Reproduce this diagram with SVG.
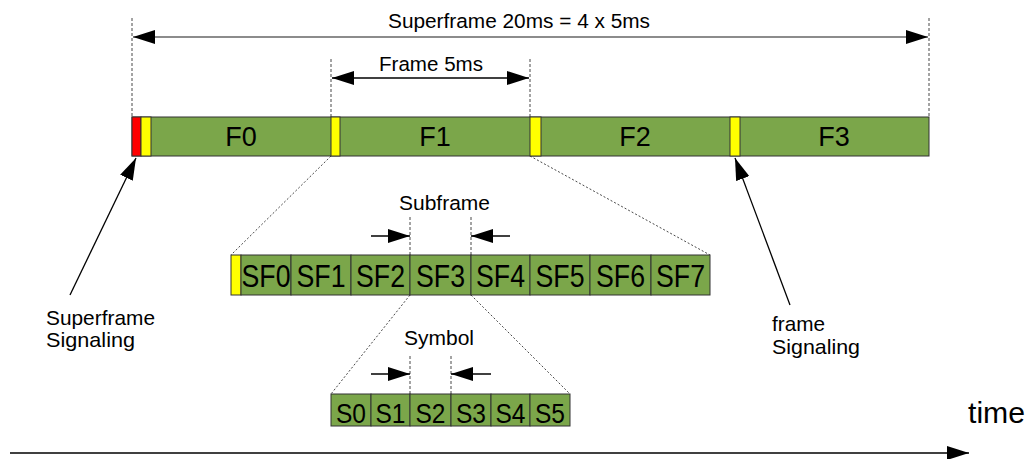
<svg xmlns="http://www.w3.org/2000/svg" width="1036" height="459" viewBox="0 0 1036 459">
<defs>
<style>
text{font-family:"Liberation Sans",Arial,sans-serif;fill:#000}
.g{fill:#7ba64a;stroke:#333;stroke-width:1}
.y{fill:#ffff00;stroke:#333;stroke-width:1}
.r{fill:#ff0000;stroke:#333;stroke-width:1}
.dash{stroke:#333;stroke-width:0.9;stroke-dasharray:3,2;fill:none}
.dot{stroke:#333;stroke-width:0.9;stroke-dasharray:2,2;fill:none}
.arr{stroke:#000;stroke-width:1.3;fill:none}
.lbl{font-size:20.5px}
.sig{font-size:21px}
.big{font-size:27px;text-anchor:middle}
.sf{font-size:31px;text-anchor:middle}
.s{font-size:28px;text-anchor:middle}
</style>
<marker id="ah" markerUnits="userSpaceOnUse" markerWidth="22" markerHeight="14" refX="22" refY="7" orient="auto-start-reverse" viewBox="0 0 22 14">
<path d="M0,0 L22,7 L0,14 z" fill="#000"/>
</marker>
</defs>

<g id="connectors">
<line class="dash" x1="132" y1="18" x2="132" y2="117"/>
<line class="dash" x1="929" y1="18" x2="929" y2="117"/>
<line class="dash" x1="331" y1="59" x2="331" y2="117"/>
<line class="dash" x1="530" y1="59" x2="530" y2="117"/>
<line x1="133" y1="37" x2="928" y2="37" stroke="#666" stroke-width="1.5" marker-start="url(#ah)" marker-end="url(#ah)"/>
<line class="arr" x1="332" y1="78" x2="529" y2="78" marker-start="url(#ah)" marker-end="url(#ah)"/>
<line class="dot" x1="331" y1="156" x2="231" y2="255"/>
<line class="dot" x1="530" y1="156" x2="710" y2="255"/>
<line class="dash" x1="410" y1="217" x2="410" y2="255"/>
<line class="dash" x1="471" y1="217" x2="471" y2="255"/>
<line class="arr" x1="371" y1="236" x2="410" y2="236" marker-end="url(#ah)"/>
<line class="arr" x1="510" y1="236" x2="471" y2="236" marker-end="url(#ah)"/>
<line class="dot" x1="410" y1="295" x2="331" y2="394"/>
<line class="dot" x1="471" y1="295" x2="570" y2="394"/>
<line class="dash" x1="410" y1="356" x2="410" y2="394"/>
<line class="dash" x1="451" y1="356" x2="451" y2="394"/>
<line class="arr" x1="371" y1="374" x2="410" y2="374" marker-end="url(#ah)"/>
<line class="arr" x1="491" y1="374" x2="451" y2="374" marker-end="url(#ah)"/>
<line class="arr" x1="70" y1="295" x2="136" y2="158" marker-end="url(#ah)"/>
<line class="arr" x1="790" y1="305" x2="735" y2="158" marker-end="url(#ah)"/>
<line class="arr" x1="10" y1="453" x2="969" y2="453" stroke-width="1.5" marker-end="url(#ah)"/>
</g>

<g id="labels">
<text class="lbl" x="388" y="28" textLength="262" lengthAdjust="spacingAndGlyphs">Superframe 20ms = 4 x 5ms</text>
<text class="lbl" x="379" y="71" textLength="104" lengthAdjust="spacingAndGlyphs">Frame 5ms</text>
<text class="lbl" x="399" y="210" textLength="91" lengthAdjust="spacingAndGlyphs">Subframe</text>
<text class="lbl" x="404" y="345" textLength="70" lengthAdjust="spacingAndGlyphs">Symbol</text>
<text font-size="30" x="968" y="423" textLength="57" lengthAdjust="spacingAndGlyphs">time</text>
</g>

<g id="superframe-signaling">
<text class="sig" x="46" y="325" textLength="109" lengthAdjust="spacingAndGlyphs">Superframe</text>
<text class="sig" x="46" y="347" textLength="89" lengthAdjust="spacingAndGlyphs">Signaling</text>
</g>
<g id="frame-signaling">
<text class="sig" x="772" y="331" textLength="53" lengthAdjust="spacingAndGlyphs">frame</text>
<text class="sig" x="772" y="354" textLength="88" lengthAdjust="spacingAndGlyphs">Signaling</text>
</g>

<g id="frames">
<rect class="g" x="132" y="117" width="797" height="39"/>
<rect class="r" x="132" y="117" width="9" height="39"/>
<rect class="y" x="141" y="117" width="10" height="39"/>
<rect class="y" x="331" y="117" width="9" height="39"/>
<rect class="y" x="530" y="117" width="11" height="39"/>
<rect class="y" x="730" y="117" width="10" height="39"/>
<g id="F0"><text class="big" x="241" y="146">F0</text></g>
<g id="F1"><text class="big" x="435" y="146">F1</text></g>
<g id="F2"><text class="big" x="635" y="146">F2</text></g>
<g id="F3"><text class="big" x="834" y="146">F3</text></g>
</g>

<g id="subframes">
<rect class="y" x="231" y="255" width="10" height="40"/>
<g id="SF0"><rect class="g" x="241" y="255" width="50" height="40"/><text class="sf" x="266" y="287" textLength="49" lengthAdjust="spacingAndGlyphs">SF0</text></g>
<g id="SF1"><rect class="g" x="291" y="255" width="60" height="40"/><text class="sf" x="321" y="287" textLength="49" lengthAdjust="spacingAndGlyphs">SF1</text></g>
<g id="SF2"><rect class="g" x="351" y="255" width="59" height="40"/><text class="sf" x="380.5" y="287" textLength="49" lengthAdjust="spacingAndGlyphs">SF2</text></g>
<g id="SF3"><rect class="g" x="410" y="255" width="61" height="40"/><text class="sf" x="440.5" y="287" textLength="49" lengthAdjust="spacingAndGlyphs">SF3</text></g>
<g id="SF4"><rect class="g" x="471" y="255" width="59" height="40"/><text class="sf" x="500.5" y="287" textLength="49" lengthAdjust="spacingAndGlyphs">SF4</text></g>
<g id="SF5"><rect class="g" x="530" y="255" width="60" height="40"/><text class="sf" x="560" y="287" textLength="49" lengthAdjust="spacingAndGlyphs">SF5</text></g>
<g id="SF6"><rect class="g" x="590" y="255" width="61" height="40"/><text class="sf" x="620.5" y="287" textLength="49" lengthAdjust="spacingAndGlyphs">SF6</text></g>
<g id="SF7"><rect class="g" x="651" y="255" width="59" height="40"/><text class="sf" x="680.5" y="287" textLength="49" lengthAdjust="spacingAndGlyphs">SF7</text></g>
</g>

<g id="symbols">
<g id="S0"><rect class="g" x="331" y="394" width="40" height="32"/><text class="s" x="351" y="423" textLength="30" lengthAdjust="spacingAndGlyphs">S0</text></g>
<g id="S1"><rect class="g" x="371" y="394" width="39" height="32"/><text class="s" x="390.5" y="423" textLength="30" lengthAdjust="spacingAndGlyphs">S1</text></g>
<g id="S2"><rect class="g" x="410" y="394" width="41" height="32"/><text class="s" x="430.5" y="423" textLength="30" lengthAdjust="spacingAndGlyphs">S2</text></g>
<g id="S3"><rect class="g" x="451" y="394" width="40" height="32"/><text class="s" x="471" y="423" textLength="30" lengthAdjust="spacingAndGlyphs">S3</text></g>
<g id="S4"><rect class="g" x="491" y="394" width="39" height="32"/><text class="s" x="510.5" y="423" textLength="30" lengthAdjust="spacingAndGlyphs">S4</text></g>
<g id="S5"><rect class="g" x="530" y="394" width="40" height="32"/><text class="s" x="550" y="423" textLength="30" lengthAdjust="spacingAndGlyphs">S5</text></g>
</g>
</svg>
